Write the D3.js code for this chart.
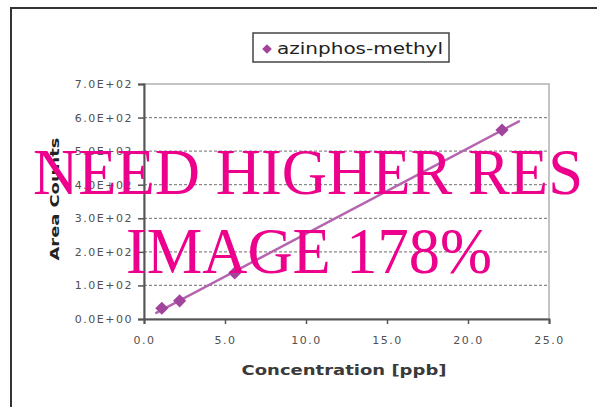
<!DOCTYPE html>
<html>
<head>
<meta charset="utf-8">
<script src="https://cdn.jsdelivr.net/npm/d3@7"></script>
<style>
  html, body { margin: 0; padding: 0; background: #fff; }
  svg { display: block; }
</style>
</head>
<body>
<div id="chart"></div>
<script>
// calibration data
const seriesName = "azinphos-methyl";
const concentration = [1.1, 2.2, 5.6, 22.1];
const areaCounts = [32, 54, 137, 563];
const trendRange = [0.7, 23.2];
const xTicks = [0, 5, 10, 15, 20, 25];
const yTicks = [0, 100, 200, 300, 400, 500, 600, 700];
const stamp = ["NEED HIGHER RES", "IMAGE 178%"];

const W = 597, H = 407;
const margin = {top: 84, right: 48, bottom: 88, left: 144};
const width = W - margin.left - margin.right,
      height = H - margin.top - margin.bottom;

const svg = d3.select("#chart").append("svg")
    .attr("width", W).attr("height", H);

// outer chart frame (runs off the right/bottom edges)
svg.append("rect")
    .attr("x", 11).attr("y", 8)
    .attr("width", W + 20).attr("height", H + 20)
    .attr("fill", "#fff").attr("stroke", "#333").attr("stroke-width", 2);

const g = svg.append("g")
    .attr("transform", "translate(" + margin.left + "," + margin.top + ")");

const x = d3.scaleLinear().domain([0, 25]).range([0, width]);
const y = d3.scaleLinear().domain([0, 700]).range([height, 0]);

// plot area border (light grey top/right)
g.append("rect")
    .attr("width", width).attr("height", height)
    .attr("fill", "none").attr("stroke", "#c4c4c4").attr("stroke-width", 2);

// dashed gridlines
g.append("g").selectAll("line")
  .data(yTicks.filter(d => d > 0 && d < 700))
  .join("line")
    .attr("x1", 0).attr("x2", width)
    .attr("y1", d => y(d)).attr("y2", d => y(d))
    .attr("stroke", "#8a8a8a").attr("stroke-width", 1.3)
    .attr("stroke-dasharray", "3,2");

// axes
const fmtY = d => (d / 100).toFixed(1) + "E+" + (d === 0 ? "00" : "02");
const yAxis = g.append("g")
    .call(d3.axisLeft(y).tickValues(yTicks).tickFormat(fmtY).tickSize(6).tickPadding(5));
const xAxis = g.append("g")
    .attr("transform", "translate(0," + height + ")")
    .call(d3.axisBottom(x).tickValues(xTicks).tickFormat(d3.format(".1f")).tickSize(5).tickPadding(12));

[yAxis, xAxis].forEach(a => {
  a.select(".domain").attr("stroke", "#555").attr("stroke-width", 2);
  a.selectAll(".tick line").attr("stroke", "#555").attr("stroke-width", 1.5);
  a.selectAll("text")
    .attr("font-family", "DejaVu Sans, Verdana, sans-serif")
    .attr("font-size", 11)
    .attr("letter-spacing", "1.5px")
    .attr("fill", "#505050");
});

// linear trendline (least squares fit)
const mx = d3.mean(concentration), my = d3.mean(areaCounts);
const slope = d3.sum(concentration, (c, i) => (c - mx) * (areaCounts[i] - my)) /
              d3.sum(concentration, c => (c - mx) * (c - mx));
const icpt = my - slope * mx;
g.append("path")
    .datum(trendRange)
    .attr("fill", "none")
    .attr("stroke", "#b565b0")
    .attr("stroke-width", 2.5)
    .attr("d", d3.line().x(d => x(d)).y(d => y(icpt + slope * d)));

// data markers
const pts = concentration.map((c, i) => ({c: c, a: areaCounts[i]}));
g.selectAll(".pt").data(pts).join("path")
    .attr("class", "pt")
    .attr("transform", d => "translate(" + x(d.c) + "," + y(d.a) + ")")
    .attr("d", d3.symbol(d3.symbolDiamond2, 110))
    .attr("fill", "#a2449c");

// axis titles
svg.append("text")
    .attr("x", 344).attr("y", 375)
    .attr("text-anchor", "middle")
    .attr("textLength", 205).attr("lengthAdjust", "spacingAndGlyphs")
    .attr("font-family", "DejaVu Sans, Verdana, sans-serif")
    .attr("font-size", 14).attr("font-weight", "bold")
    .attr("fill", "#3a3a3a")
    .text("Concentration [ppb]");

svg.append("text")
    .attr("transform", "translate(59,199) rotate(-90)")
    .attr("text-anchor", "middle")
    .attr("textLength", 123).attr("lengthAdjust", "spacingAndGlyphs")
    .attr("font-family", "DejaVu Sans, Verdana, sans-serif")
    .attr("font-size", 13).attr("font-weight", "bold")
    .attr("fill", "#222")
    .text("Area Counts");

// legend
const leg = svg.append("g").attr("transform", "translate(253,33)");
leg.append("rect")
    .attr("width", 196).attr("height", 29)
    .attr("fill", "#fff").attr("stroke", "#444").attr("stroke-width", 1.5);
leg.append("path")
    .attr("transform", "translate(14,16)")
    .attr("d", d3.symbol(d3.symbolDiamond2, 60))
    .attr("fill", "#a2449c");
leg.append("text")
    .attr("x", 24).attr("y", 21)
    .attr("textLength", 166).attr("lengthAdjust", "spacingAndGlyphs")
    .attr("font-family", "DejaVu Sans, Verdana, sans-serif")
    .attr("font-size", 15)
    .attr("fill", "#222")
    .text(seriesName);

// pink overlay stamp
const stampPos = [{x: 33, y: 194, w: 550}, {x: 126, y: 273, w: 366}];
svg.selectAll(".stamp").data(stamp).join("text")
    .attr("class", "stamp")
    .attr("x", (d, i) => stampPos[i].x)
    .attr("y", (d, i) => stampPos[i].y)
    .attr("textLength", (d, i) => stampPos[i].w)
    .attr("lengthAdjust", "spacingAndGlyphs")
    .attr("font-family", "Liberation Serif, Times New Roman, serif")
    .attr("font-size", 66)
    .attr("fill", "#ec008c")
    .text(d => d);
</script>
</body>
</html>
